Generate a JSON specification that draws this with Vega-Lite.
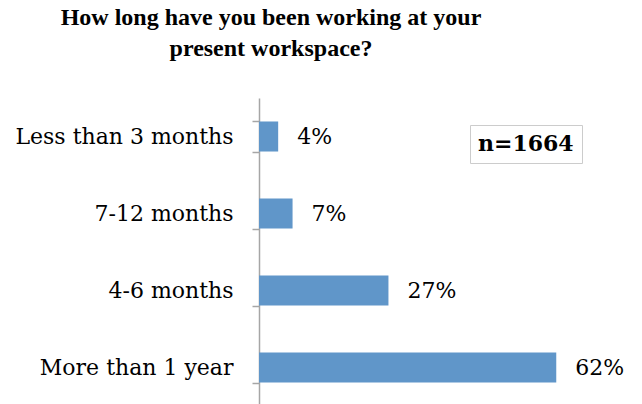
{
  "$schema": "https://vega.github.io/schema/vega-lite/v6.json",
  "width": 350,
  "height": 308,
  "autosize": "none",
  "padding": {"left": 259, "top": 98, "right": 33, "bottom": 0},
  "background": "white",
  "title": {
    "text": ["How long have you been working at your", "present workspace?"],
    "font": "Liberation Serif",
    "fontSize": 24,
    "fontWeight": "bold",
    "color": "black",
    "anchor": "middle",
    "dx": -163,
    "offset": 26,
    "lineHeight": 31
  },
  "config": {"view": {"stroke": null}},
  "layer": [
    {
      "data": {"values": [
        {"cat": "Less than 3 months", "value": 0.04},
        {"cat": "7-12 months", "value": 0.07},
        {"cat": "4-6 months", "value": 0.27},
        {"cat": "More than 1 year", "value": 0.62}
      ]},
      "layer": [
        {
          "mark": {"type": "bar", "color": "#6096C9"},
          "encoding": {
            "y": {"field": "cat", "type": "nominal",
              "sort": ["Less than 3 months", "7-12 months", "4-6 months", "More than 1 year"],
              "scale": {"paddingInner": 0.61, "paddingOuter": 0.305},
              "axis": {"title": null, "domainColor": "#a6a6a6", "domainWidth": 1.5, "tickColor": "#a6a6a6", "tickWidth": 1.5, "tickSize": 7, "tickBand": "extent", "labelPadding": 19, "labelFont": "DejaVu Serif", "labelFontSize": 22, "labelColor": "black", "labelLimit": 300}},
            "x": {"field": "value", "type": "quantitative", "scale": {"domain": [0, 0.73], "nice": false}, "axis": null}
          }
        },
        {
          "mark": {"type": "text", "align": "left", "baseline": "middle", "dx": 19, "font": "DejaVu Serif", "fontSize": 22, "color": "black"},
          "encoding": {
            "y": {"field": "cat", "type": "nominal", "sort": ["Less than 3 months", "7-12 months", "4-6 months", "More than 1 year"]},
            "x": {"field": "value", "type": "quantitative"},
            "text": {"field": "value", "type": "quantitative", "format": ".0%"}
          }
        }
      ]
    },
    {
      "data": {"values": [{"n": "n=1664"}]},
      "mark": {"type": "point", "opacity": 0},
      "encoding": {
        "shape": {"field": "n", "type": "nominal", "legend": {
          "title": null, "orient": "top-right", "offset": 27,
          "strokeColor": "#cccccc", "padding": 8,
          "symbolSize": 0, "symbolStrokeWidth": 0, "symbolOpacity": 0, "labelOffset": -22,
          "labelFont": "DejaVu Serif", "labelFontSize": 22, "labelFontWeight": "bold", "labelColor": "black"
        }}
      }
    }
  ]
}
